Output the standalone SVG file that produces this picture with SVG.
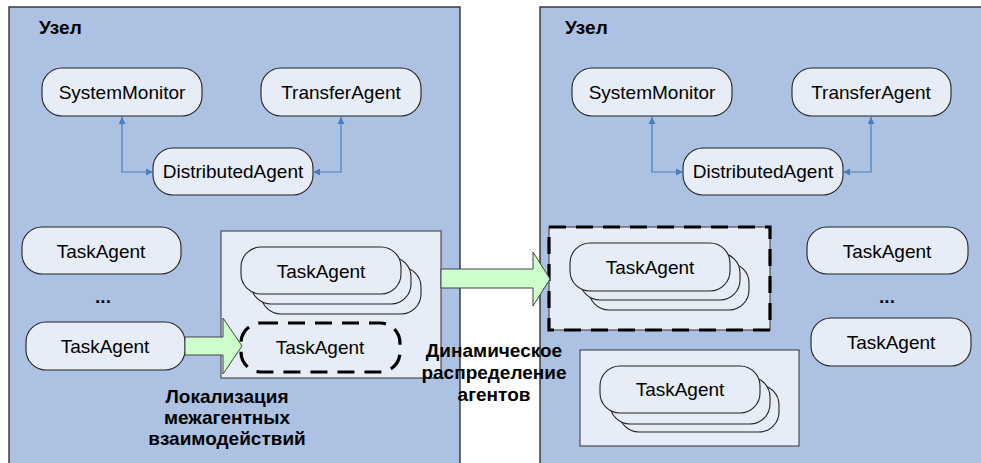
<svg xmlns="http://www.w3.org/2000/svg" width="981" height="463" viewBox="0 0 981 463">
  <style>
    .panel { fill: #adc2e3; stroke: #222; stroke-width: 1.3; }
    .node { fill: #e7edf7; stroke: #222; stroke-width: 1.1; }
    .box { fill: #e7edf7; stroke: #333; stroke-width: 1; }
    .dash { fill: none; stroke: #000; stroke-width: 3.2; stroke-dasharray: 17 10; }
    .lbl { font-family: "Liberation Sans", Arial, sans-serif; font-size: 19px; fill: #000; text-anchor: middle; }
    .hdr { font-family: "Liberation Sans", Arial, sans-serif; font-size: 19px; font-weight: bold; fill: #000; }
    .cap { font-family: "Liberation Sans", Arial, sans-serif; font-size: 19px; font-weight: bold; fill: #000; text-anchor: middle; }
    .link { fill: none; stroke: #4a7ebb; stroke-width: 1.2; }
    .move { fill: #ccffcc; stroke: #444; stroke-width: 1; }
  </style>
  <defs>
    <marker id="ah" viewBox="0 0 10 10" refX="10" refY="5" markerWidth="7" markerHeight="7" orient="auto-start-reverse" markerUnits="userSpaceOnUse">
      <path d="M0,0 L10,5 L0,10 z" fill="#4a7ebb"/>
    </marker>
  </defs>

  <rect width="981" height="463" fill="#fff"/>

  <!-- left host -->
  <g id="host-left">
    <rect class="panel" x="9" y="7" width="451" height="470"/>
    <text class="hdr" x="39" y="34">Узел</text>
  </g>
  <!-- right host -->
  <g id="host-right">
    <rect class="panel" x="540" y="7" width="460" height="470"/>
    <text class="hdr" x="565" y="34">Узел</text>
  </g>

  <!-- left host services -->
  <g id="l-sysmon">
    <rect class="node" x="42" y="68" width="160" height="48" rx="20"/>
    <text class="lbl" x="122" y="99">SystemMonitor</text>
  </g>
  <g id="l-transfer">
    <rect class="node" x="261" y="68" width="160" height="48" rx="20"/>
    <text class="lbl" x="341" y="99">TransferAgent</text>
  </g>
  <g id="l-distributed">
    <rect class="node" x="153" y="148" width="160" height="47" rx="20"/>
    <text class="lbl" x="233" y="178">DistributedAgent</text>
  </g>

  <!-- left host task agents -->
  <g id="l-task1">
    <rect class="node" x="22" y="227" width="159" height="47" rx="20"/>
    <text class="lbl" x="101" y="258">TaskAgent</text>
  </g>
  <g id="l-dots">
    <text class="hdr" x="103" y="303" text-anchor="middle">...</text>
  </g>
  <g id="l-task2">
    <rect class="node" x="26" y="322" width="159" height="48" rx="20"/>
    <text class="lbl" x="105" y="353">TaskAgent</text>
  </g>

  <!-- left host: local group -->
  <g id="l-group">
    <rect class="box" x="221" y="231" width="220" height="147"/>
    <rect class="node" x="261" y="267" width="160" height="47" rx="20"/>
    <rect class="node" x="251" y="257" width="160" height="47" rx="20"/>
    <rect class="node" x="241" y="247" width="160" height="47" rx="20"/>
    <text class="lbl" x="321" y="278">TaskAgent</text>
  </g>
  <g id="l-task-moved">
    <rect class="dash" x="241" y="323" width="159" height="49" rx="20"/>
    <text class="lbl" x="320" y="354">TaskAgent</text>
  </g>

  <!-- right host services -->
  <g id="r-sysmon">
    <rect class="node" x="572" y="68" width="160" height="48" rx="20"/>
    <text class="lbl" x="652" y="99">SystemMonitor</text>
  </g>
  <g id="r-transfer">
    <rect class="node" x="792" y="68" width="159" height="48" rx="20"/>
    <text class="lbl" x="871" y="99">TransferAgent</text>
  </g>
  <g id="r-distributed">
    <rect class="node" x="683" y="148" width="160" height="47" rx="20"/>
    <text class="lbl" x="763" y="178">DistributedAgent</text>
  </g>

  <!-- right host: migrated group -->
  <g id="r-group-moved">
    <rect class="box" x="549" y="227" width="221" height="103" stroke="none"/>
    <rect class="dash" x="549" y="227" width="221" height="103"/>
    <rect class="node" x="589" y="263" width="160" height="47" rx="20"/>
    <rect class="node" x="580" y="253" width="160" height="47" rx="20"/>
    <rect class="node" x="570" y="243" width="160" height="48" rx="20"/>
    <text class="lbl" x="650" y="274">TaskAgent</text>
  </g>
  <g id="r-group">
    <rect class="box" x="580" y="350" width="219" height="96"/>
    <rect class="node" x="619" y="385" width="160" height="47" rx="20"/>
    <rect class="node" x="610" y="377" width="160" height="47" rx="20"/>
    <rect class="node" x="600" y="366" width="160" height="47" rx="20"/>
    <text class="lbl" x="680" y="396">TaskAgent</text>
  </g>

  <!-- right host task agents -->
  <g id="r-task1">
    <rect class="node" x="807" y="227" width="161" height="47" rx="20"/>
    <text class="lbl" x="887" y="258">TaskAgent</text>
  </g>
  <g id="r-dots">
    <text class="hdr" x="887" y="303" text-anchor="middle">...</text>
  </g>
  <g id="r-task2">
    <rect class="node" x="811" y="318" width="160" height="48" rx="20"/>
    <text class="lbl" x="891" y="349">TaskAgent</text>
  </g>

  <!-- connectors -->
  <g id="connectors">
    <path class="link" d="M122,117 V172 H153" marker-start="url(#ah)" marker-end="url(#ah)"/>
    <path class="link" d="M341,117 V172 H313" marker-start="url(#ah)" marker-end="url(#ah)"/>
    <path class="link" d="M652,117 V172 H683" marker-start="url(#ah)" marker-end="url(#ah)"/>
    <path class="link" d="M871,117 V172 H843" marker-start="url(#ah)" marker-end="url(#ah)"/>
    <!-- localisation: agent moved into the group -->
    <path class="move" d="M185,337 H223 V318 L242,346 L223,374 V355 H185 Z"/>
    <!-- migration of the group to the other host -->
    <path class="move" d="M441,269 H533 V252 L550,279 L533,306 V288 H441 Z"/>
  </g>

  <!-- captions -->
  <g id="captions">
    <text class="cap" x="227" y="403">Локализация</text>
    <text class="cap" x="227" y="424">межагентных</text>
    <text class="cap" x="227" y="445">взаимодействий</text>
    <text class="cap" x="494" y="357">Динамическое</text>
    <text class="cap" x="494" y="379">распределение</text>
    <text class="cap" x="494" y="401">агентов</text>
  </g>
</svg>
